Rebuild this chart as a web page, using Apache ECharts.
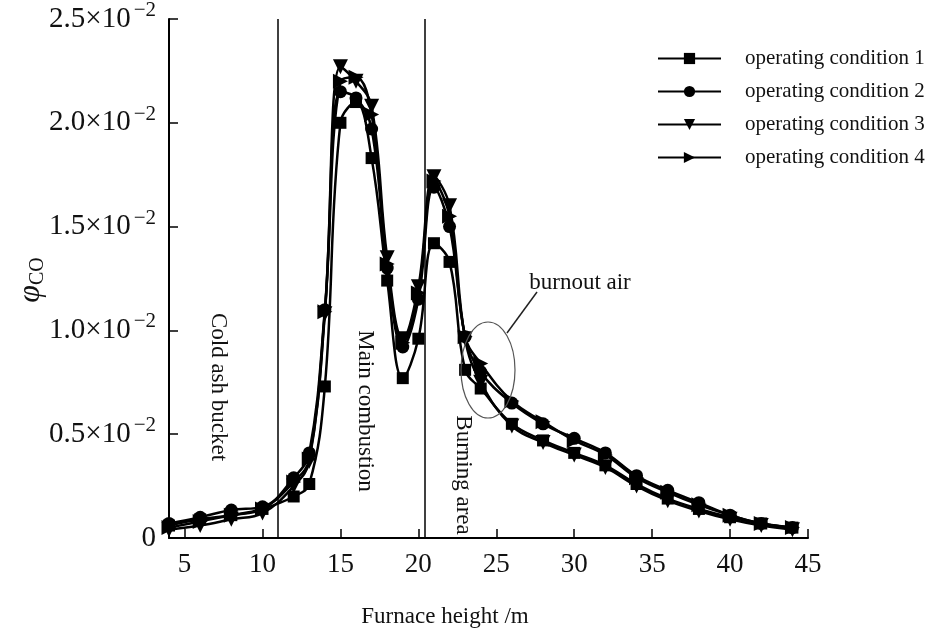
<!DOCTYPE html>
<html>
<head>
<meta charset="utf-8">
<script src="https://cdn.jsdelivr.net/npm/echarts@6/dist/echarts.min.js"></script>
<style>
html,body{margin:0;padding:0;background:#fff}
#chart{width:933px;height:632px}
</style>
</head>
<body>
<div id="chart"></div>
<script>
// furnace height (m)
const heights = [4,6,8,10,12,13,14,15,16,17,18,19,20,21,22,23,24,26,28,30,32,34,36,38,40,42,44]
// CO volume fraction, in units of 10^-2
const cond1 = [0.06,0.09,0.11,0.14,0.20,0.26,0.73,2.00,2.10,1.83,1.24,0.77,0.96,1.42,1.33,0.81,0.72,0.55,0.47,0.41,0.35,0.26,0.19,0.14,0.10,0.07,0.05]
const cond2 = [0.07,0.10,0.135,0.15,0.29,0.41,1.10,2.15,2.12,1.97,1.30,0.92,1.15,1.69,1.50,0.97,0.80,0.65,0.55,0.48,0.41,0.30,0.23,0.17,0.11,0.07,0.05]
const cond3 = [0.04,0.06,0.09,0.12,0.25,0.37,1.08,2.27,2.20,2.08,1.35,0.96,1.21,1.74,1.60,0.96,0.75,0.54,0.46,0.40,0.34,0.25,0.18,0.13,0.09,0.06,0.04]
const cond4 = [0.05,0.08,0.11,0.14,0.27,0.38,1.09,2.20,2.22,2.04,1.32,0.94,1.18,1.72,1.55,0.97,0.84,0.66,0.56,0.47,0.40,0.29,0.22,0.16,0.11,0.07,0.05]
const seriesNames = ["operating condition 1","operating condition 2","operating condition 3","operating condition 4"]
const xTicks = [5,10,15,20,25,30,35,40,45]
const zoneLines = [11,20.4]

const serif = "Liberation Serif"
const chart = echarts.init(document.getElementById("chart"))

const pairs = arr => heights.map((h,i) => [h,arr[i]])

// marker styles for each condition
const marks = [
	{symbol:"rect",size:12,rotate:0},
	{symbol:"circle",size:13,rotate:0},
	{symbol:"triangle",size:15,rotate:180},
	{symbol:"triangle",size:15,rotate:-90}
]

const series = [cond1,cond2,cond3,cond4].map((arr,i) => ({
	name: seriesNames[i],
	type: "line",
	data: pairs(arr),
	smooth: 0.4,
	symbol: marks[i].symbol,
	symbolSize: marks[i].size,
	symbolRotate: marks[i].rotate,
	showAllSymbol: true,
	lineStyle: {color:"#000",width:2.5},
	itemStyle: {color:"#000"},
	z: 3
}))

// zone boundaries
series[0].markLine = {
	silent: true,
	symbol: "none",
	label: {show:false},
	lineStyle: {color:"#000",width:1.5,type:"solid"},
	data: zoneLines.map(v => ({xAxis:v}))
}

const annot = {fontFamily:serif,fontSize:23,fill:"#111",align:"center",verticalAlign:"middle"}

const option = {
	animation: false,
	backgroundColor: "#fff",
	grid: {left:169,right:125,top:18,bottom:94},
	legend: {
		orient: "vertical",
		left: 652,
		top: 43,
		itemWidth: 63,
		itemHeight: 14,
		itemGap: 12,
		textStyle: {fontFamily:serif,fontSize:21,color:"#111",padding:[0,0,0,19]},
		data: seriesNames
	},
	xAxis: {
		type: "value",
		min: 4,
		max: 45,
		axisLine: {lineStyle:{color:"#000",width:2}},
		axisTick: {inside:true,length:9,lineStyle:{color:"#000",width:1.5},customValues:xTicks},
		axisLabel: {fontFamily:serif,fontSize:27,color:"#111",margin:13,customValues:xTicks},
		splitLine: {show:false}
	},
	yAxis: {
		type: "value",
		min: 0,
		max: 2.5,
		interval: 0.5,
		axisLine: {show:true,lineStyle:{color:"#000",width:2}},
		axisTick: {show:true,inside:true,length:9,lineStyle:{color:"#000",width:1.5}},
		axisLabel: {
			fontFamily: serif,
			fontSize: 29,
			color: "#111",
			margin: 13,
			formatter: v => v === 0 ? "0" : v.toFixed(1) + "×10{sup|−2}",
			rich: {sup:{fontFamily:serif,fontSize:21,color:"#111",padding:[0,0,17,3]}}
		},
		splitLine: {show:false}
	},
	graphic: [
		{type:"text",x:31,y:280,rotation:Math.PI/2,style:{
			text:"{phi|φ}{sub|CO}",align:"center",verticalAlign:"middle",
			rich:{phi:{fontFamily:serif,fontStyle:"italic",fontSize:32,fill:"#111"},
				sub:{fontFamily:serif,fontSize:20,fill:"#111",padding:[14,0,0,0]}}}},
		{type:"text",x:445,y:617,style:Object.assign({},annot,{text:"Furnace height /m"})},
		{type:"text",x:218,y:387,rotation:-Math.PI/2,style:Object.assign({},annot,{text:"Cold ash bucket"})},
		{type:"text",x:365,y:411,rotation:-Math.PI/2,style:Object.assign({},annot,{text:"Main combustion"})},
		{type:"text",x:463,y:475,rotation:-Math.PI/2,style:Object.assign({},annot,{text:"Burning area"})},
		{type:"text",x:580,y:283,style:Object.assign({},annot,{text:"burnout air"})},
		{type:"ellipse",shape:{cx:488,cy:370,rx:27,ry:48},style:{fill:"none",stroke:"#555",lineWidth:1.2},z:10},
		{type:"line",shape:{x1:507,y1:333,x2:537,y2:292},style:{stroke:"#222",lineWidth:1.5},z:10}
	],
	series: series
}

chart.setOption(option)
</script>
</body>
</html>
